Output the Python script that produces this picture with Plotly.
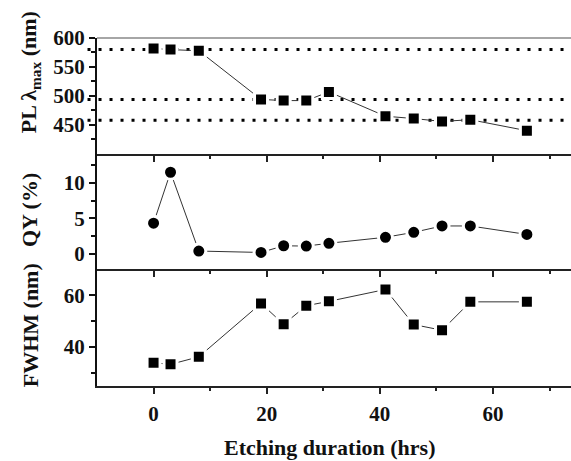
import plotly.graph_objects as go
from plotly.subplots import make_subplots

# ---- data ----
etching_hours = [0, 3, 8, 19, 23, 27, 31, 41, 46, 51, 56, 66]
pl_lambda_max = [582, 580, 578, 494, 492, 492, 507, 465, 461, 456, 459, 440]
qy_percent = [4.3, 11.5, 0.35, 0.15, 1.1, 1.05, 1.45, 2.3, 3.0, 3.9, 3.9, 2.7]
fwhm_nm = [33.8, 33.2, 36.1, 56.8, 48.7, 55.9, 57.6, 62.2, 48.6, 46.4, 57.4, 57.4]
pl_reference_levels = [580, 494, 458]

x_major_ticks = [0, 20, 40, 60]
x_major_labels = ["0", "20", "40", "60"]
x_minor_ticks = [10, 30, 50, 70]
pl_major_ticks = [450, 500, 550, 600]
pl_minor_ticks = [425, 475, 525, 575]
qy_major_ticks = [0, 5, 10]
qy_minor_ticks = [2.5, 7.5, 12.5]
fwhm_major_ticks = [40, 60]
fwhm_minor_ticks = [30, 50]

FONT = "Liberation Serif"
INK = "#111111"

fig = make_subplots(rows=3, cols=1, vertical_spacing=0)

line_style = dict(color="#333333", width=1)
sq = dict(symbol="square", size=13, color="black", line=dict(color="white", width=3))
ci = dict(symbol="circle", size=14, color="black", line=dict(color="white", width=3))

fig.add_trace(go.Scatter(x=etching_hours, y=pl_lambda_max, mode="lines+markers",
                         line=line_style, marker=sq, showlegend=False), row=1, col=1)
fig.add_trace(go.Scatter(x=etching_hours, y=qy_percent, mode="lines+markers",
                         line=line_style, marker=ci, showlegend=False), row=2, col=1)
fig.add_trace(go.Scatter(x=etching_hours, y=fwhm_nm, mode="lines+markers",
                         line=line_style, marker=sq, showlegend=False), row=3, col=1)

# dotted reference lines in top panel (drawn below traces)
for lvl in pl_reference_levels:
    fig.add_shape(type="line", xref="x domain", yref="y", x0=-0.02, x1=1, y0=lvl, y1=lvl,
                  line=dict(color="black", width=3, dash="3px,8px"), layer="below")

# gray top border of top panel
fig.add_shape(type="line", xref="x domain", yref="y domain", x0=0, x1=1, y0=1, y1=1,
              line=dict(color="#888888", width=1.5))

tick_font = dict(family=FONT, size=21, color=INK, weight="bold")

domains = {1: [0.667, 1.0], 2: [0.336, 0.667], 3: [0.0, 0.336]}
for r in (1, 2, 3):
    fig.update_xaxes(
        row=r, col=1, range=[-10, 73.8], domain=[0, 1],
        showline=True, linecolor="#222222", linewidth=2, mirror=False,
        ticks="outside", ticklen=6, tickwidth=1.5, tickcolor="#222222",
        tickmode="array", tickvals=x_major_ticks, ticktext=x_major_labels,
        minor=dict(tickmode="array", tickvals=x_minor_ticks, ticks="outside",
                   ticklen=3, tickwidth=1.5, tickcolor="#222222"),
        showticklabels=(r == 3), tickfont=tick_font, ticklabelstandoff=2,
        showgrid=False, zeroline=False,
    )

yaxis_specs = {
    1: ([400, 600], pl_major_ticks, pl_minor_ticks),
    2: ([-2.2, 14.1], qy_major_ticks, qy_minor_ticks),
    3: ([24.8, 70.1], fwhm_major_ticks, fwhm_minor_ticks),
}
for r, (rng, major, minor) in yaxis_specs.items():
    fig.update_yaxes(
        row=r, col=1, range=rng, domain=domains[r],
        showline=True, linecolor="#111111", linewidth=2,
        ticks="outside", ticklen=6, tickwidth=1.5, tickcolor="#111111",
        tickmode="array", tickvals=major, ticktext=[str(v) for v in major],
        minor=dict(tickmode="array", tickvals=minor, ticks="outside",
                   ticklen=4, tickwidth=1.5, tickcolor="#111111"),
        tickfont=tick_font, ticklabelstandoff=0,
        showgrid=False, zeroline=False,
    )

title_font = dict(family=FONT, size=22, color=INK, weight="bold")
fig.add_annotation(text="PL λ<sub>max</sub> (nm)", xref="paper", yref="paper",
                   x=-0.141, y=0.902, textangle=-90, showarrow=False, font=title_font,
                   xanchor="center", yanchor="middle")
fig.add_annotation(text="QY (%)", xref="paper", yref="paper",
                   x=-0.141, y=0.506, textangle=-90, showarrow=False, font=title_font,
                   xanchor="center", yanchor="middle")
fig.add_annotation(text="FWHM (nm)", xref="paper", yref="paper",
                   x=-0.141, y=0.175, textangle=-90, showarrow=False, font=title_font,
                   xanchor="center", yanchor="middle")
fig.add_annotation(text="Etching duration (hrs)", xref="paper", yref="paper",
                   x=0.49, y=-0.178, showarrow=False, font=title_font,
                   xanchor="center", yanchor="middle")

fig.update_layout(
    width=571, height=461,
    margin=dict(l=97, r=0, t=38, b=75),
    paper_bgcolor="white", plot_bgcolor="white",
    font=dict(family=FONT, color=INK),
)

fig.write_html("out.html", config={"displayModeBar": False},
               post_script="document.body.style.margin='0';")
